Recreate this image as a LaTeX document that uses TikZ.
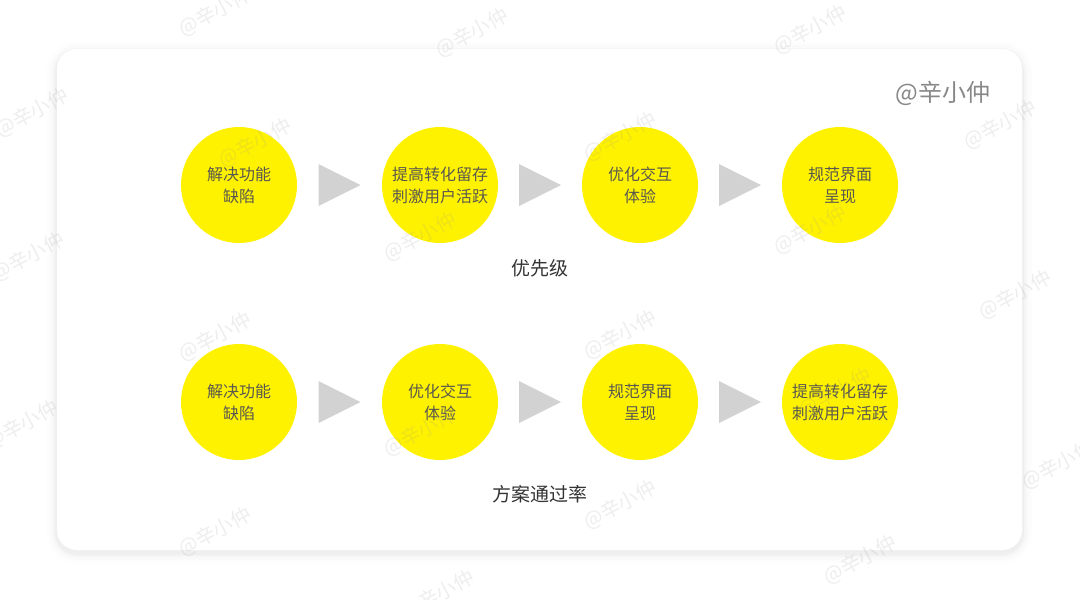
\documentclass[tikz,border=0pt]{standalone}
\usepackage{fontspec}
\setmainfont{Noto Sans CJK SC}
\usetikzlibrary{calc}
\definecolor{xzyellow}{RGB}{255,242,0}
\definecolor{xztext}{RGB}{88,88,80}
\definecolor{xzdark}{RGB}{51,51,51}
\definecolor{xzsign}{RGB}{136,136,136}
\definecolor{xzarrow}{RGB}{210,210,210}
\definecolor{xzmark}{RGB}{150,150,150}

\begin{document}
\begin{tikzpicture}[x=1pt,y=-1pt,
  stage/.style={circle, fill=xzyellow, minimum size=116pt, inner sep=0pt,
    align=center, font=\fontsize{16}{22}\selectfont, text=xztext},
  caption/.style={font=\fontsize{19}{22}\selectfont, text=xzdark},
  watermark/.style={font=\fontsize{20}{20}\selectfont, text=xzmark,
    text opacity=0.16, rotate=28}]
  \useasboundingbox (0,0) rectangle (1080,600);
  \fill[white] (0,0) rectangle (1080,600);
  % Card with soft shadow
  \foreach \s/\o in {10/0.008,7/0.012,4/0.018,2/0.025}
    \fill[black, opacity=\o, rounded corners=20+\s] (57-\s,49-\s+3) rectangle (1022+\s,550+\s+3);
  \fill[white, rounded corners=20pt] (57,49) rectangle (1022,550);
  \node[font=\fontsize{24}{24}\selectfont, text=xzsign] (sign) at (943,93) {@辛小仲};
  % Row 1: priority
  \node[stage] (p1) at (239,185) {解决功能\\缺陷};
  \node[stage] (p2) at (440,185) {提高转化留存\\刺激用户活跃};
  \node[stage] (p3) at (640,185) {优化交互\\体验};
  \node[stage] (p4) at (840,185) {规范界面\\呈现};
  \node[caption] (prio) at (540,268) {优先级};
  % Row 2: approval rate
  \node[stage] (q1) at (239,402) {解决功能\\缺陷};
  \node[stage] (q2) at (440,402) {优化交互\\体验};
  \node[stage] (q3) at (640,402) {规范界面\\呈现};
  \node[stage] (q4) at (840,402) {提高转化留存\\刺激用户活跃};
  \node[caption] (rate) at (540,494) {方案通过率};
  % Arrows between stages
  \foreach \a/\b in {p1/p2,p2/p3,p3/p4,q1/q2,q2/q3,q3/q4}{
    \coordinate (m) at ($(\a)!0.5!(\b)$);
    \fill[xzarrow] (m) ++(-21,-21) -- ++(0,42) -- ++(42,-21) -- cycle;
  }
  % Watermarks
  \foreach \wx/\wy in {215/12,472/33,810/30,32/113,255/143,620/137,1000/125,
      28/257,420/237,810/230,1015/295,215/337,620/335,22/425,420/432,
      835/393,1058/465,620/505,215/532,860/560,438/595}
    \node[watermark] at (\wx,\wy) {@辛小仲};
\end{tikzpicture}
\end{document}
